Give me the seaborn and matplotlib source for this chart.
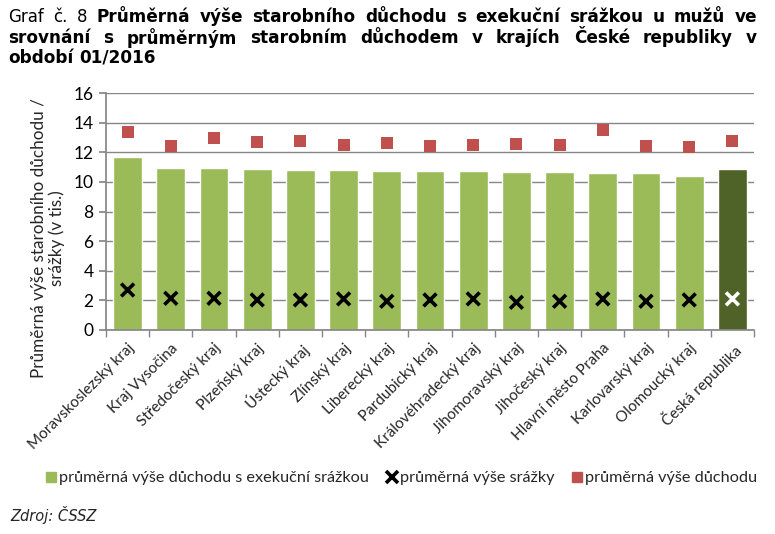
import matplotlib
matplotlib.use("Agg")
import matplotlib.pyplot as plt
import seaborn as sns
import pandas as pd
import numpy as np
from matplotlib.lines import Line2D
from matplotlib.ticker import FixedLocator

regions = ["Moravskoslezský kraj", "Kraj Vysočina", "Středočeský kraj", "Plzeňský kraj",
           "Ústecký kraj", "Zlínský kraj", "Liberecký kraj", "Pardubický kraj",
           "Královéhradecký kraj", "Jihomoravský kraj", "Jihočeský kraj",
           "Hlavní město Praha", "Karlovarský kraj", "Olomoucký kraj", "Česká republika"]
pension_with_deduction = [11.70, 10.95, 10.95, 10.88, 10.82, 10.82, 10.75, 10.75,
                          10.75, 10.68, 10.68, 10.62, 10.62, 10.41, 10.88]
deduction = [2.70, 2.14, 2.14, 2.03, 2.03, 2.10, 1.94, 2.03,
             2.10, 1.87, 1.94, 2.10, 1.94, 2.03, 2.10]
pension_avg = [13.34, 12.40, 12.94, 12.67, 12.73, 12.51, 12.60, 12.44,
               12.51, 12.58, 12.51, 13.48, 12.44, 12.33, 12.78]

GREEN = "#9BBB59"
DARK = "#4F6228"
RED = "#C0504D"
GRID = "#868686"

sns.set_theme(style="white")
plt.rcParams['font.family'] = ['Lato', 'DejaVu Sans']

df = pd.DataFrame({"region": regions, "val": pension_with_deduction,
                   "ded": deduction, "avg": pension_avg})
palette = {r: (DARK if r == "Česká republika" else GREEN) for r in regions}

fig = plt.figure(figsize=(7.75, 5.34), dpi=100)
ax = fig.add_axes([106/775, 1-330/534, (754-106)/775, (330-93)/534])

sns.barplot(data=df, x="region", y="val", hue="region", palette=palette,
            dodge=False, legend=False, width=0.67, saturation=1, ax=ax, zorder=2)
xs = np.arange(len(regions))
ax.scatter(xs, df["avg"], marker="s", s=72, color=RED, zorder=3, linewidths=0)
xcol = ["white" if r == "Česká republika" else "black" for r in regions]
ax.scatter(xs, df["ded"], marker="x", s=85, c=xcol, linewidths=2.6, zorder=4)

ax.set_xlim(-0.5, len(regions) - 0.5)
ax.set_ylim(0, 16)
ax.set_yticks(np.arange(0, 17, 2))
ax.yaxis.grid(True, color=GRID, linewidth=1.0, zorder=0)
ax.set_axisbelow(True)
for s in ["top", "right"]:
    ax.spines[s].set_visible(False)
ax.spines["left"].set_color(GRID)
ax.spines["bottom"].set_color(GRID)
ax.tick_params(axis="y", which="major", left=True, length=5, color=GRID,
               labelsize=12.5, pad=4, labelcolor="black")
ax.tick_params(axis="x", which="major", bottom=False, labelsize=11, pad=2)
ax.xaxis.set_minor_locator(FixedLocator(np.arange(-0.5, len(regions), 1)))
ax.tick_params(axis="x", which="minor", bottom=True, length=5, color=GRID, width=1)
ax.set_xticks(xs)
ax.set_xticklabels(regions, rotation=45, ha="right", rotation_mode="anchor")
ax.set_xlabel("")
ax.set_ylabel("Průměrná výše starobního důchodu /\nsrážky (v tis.)", fontsize=12.3,
              linespacing=1.05)
ax.yaxis.set_label_coords(-0.064, 0.388)

handles = [Line2D([], [], marker="s", linestyle="none", color=GREEN, markersize=7),
           Line2D([], [], marker="x", linestyle="none", color="black", markersize=8,
                  markeredgewidth=2.6),
           Line2D([], [], marker="s", linestyle="none", color=RED, markersize=7)]
labels = ["průměrná výše důchodu s exekuční srážkou", "průměrná výše srážky",
          "průměrná výše důchodu"]
fig.legend(handles, labels, loc="center", bbox_to_anchor=(401/775, 1-478/534),
           ncol=3, frameon=False, fontsize=11.7, handletextpad=0.1, columnspacing=1.0,
           handlelength=0.8)

fig.text(10/775, 1-515/534, "Zdroj: ČSSZ", fontsize=10.5, style="italic",
         family=["DejaVu Sans"], va="center", ha="left")

# Title, justified lines
title_lines = [
    ([("Graf", False), ("č.", False), ("8", False)] +
     [(w, True) for w in "Průměrná výše starobního důchodu s exekuční srážkou u mužů ve".split()], True),
    ([(w, True) for w in "srovnání s průměrným starobním důchodem v krajích České republiky v".split()], True),
    ([(w, True) for w in "období 01/2016".split()], False),
]
line_y = [17, 38, 58]
x0, x1 = 8, 757
fig.canvas.draw()
renderer = fig.canvas.get_renderer()
for (words, justify), ypx in zip(title_lines, line_y):
    texts = []
    for w, bold in words:
        t = fig.text(0, 1 - ypx/534, w, fontsize=12.2 if bold else 12,
                     family=["DejaVu Sans"],
                     weight="bold" if bold else "normal", va="center", ha="left",
                     color="black")
        texts.append(t)
    widths = [t.get_window_extent(renderer).width for t in texts]
    if justify:
        gap = (x1 - x0 - sum(widths)) / (len(texts) - 1)
    else:
        gap = 6
    x = x0
    for t, w in zip(texts, widths):
        t.set_x(x/775)
        x += w + gap

fig.savefig("out.png", dpi=100)
